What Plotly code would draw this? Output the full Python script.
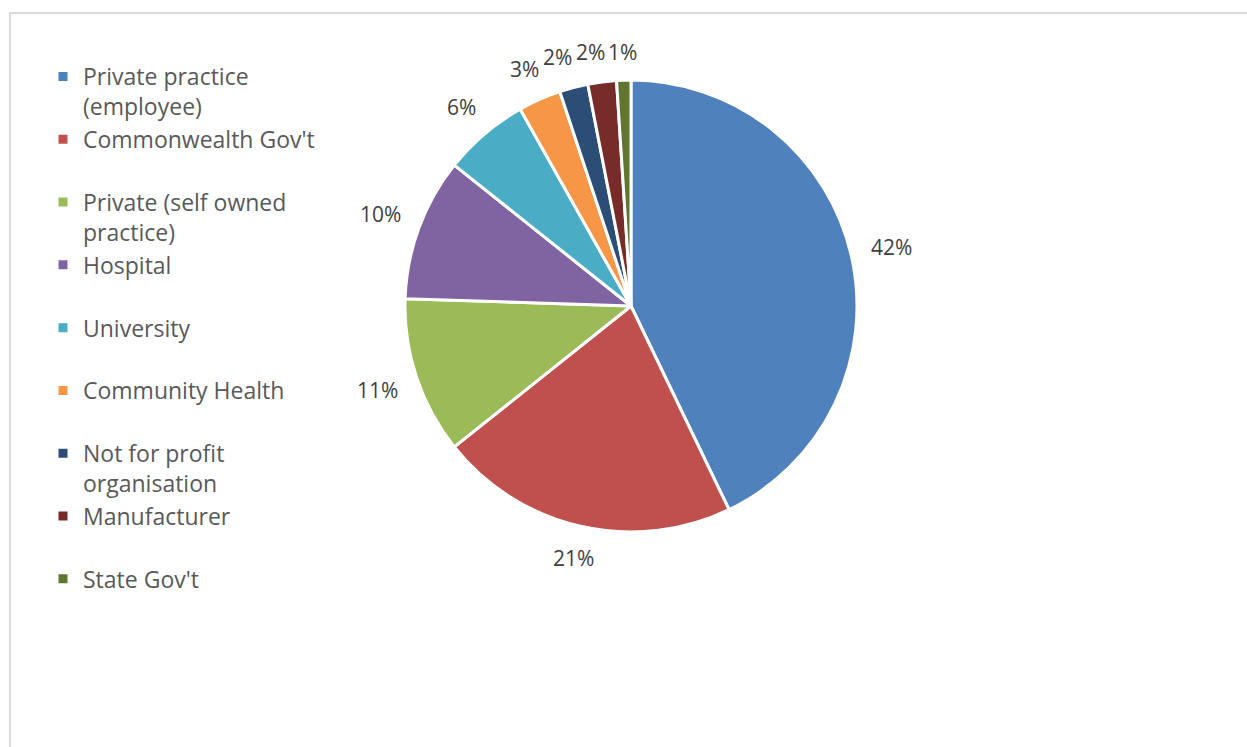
import math
import plotly.graph_objects as go

# Workplace categories and their share of respondents (%)
categories = [
    "Private practice<br>(employee)",
    "Commonwealth Gov't<br> ",
    "Private (self owned<br>practice)",
    "Hospital<br> ",
    "University<br> ",
    "Community Health<br> ",
    "Not for profit<br>organisation",
    "Manufacturer<br> ",
    "State Gov't<br> ",
]
shares = [42, 21, 11, 10, 6, 3, 2, 2, 1]
slice_colors = [
    "#4F81BD", "#C0504D", "#9BBB59", "#8064A2", "#4BACC6",
    "#F79646", "#2C4D75", "#772C2A", "#5F7530",
]

W, H = 1247, 747
cx, cy, r = 631, 306, 226  # pie centre and radius in pixels
label_size = 21

fig = go.Figure(
    go.Pie(
        labels=categories,
        values=shares,
        sort=False,
        direction="clockwise",
        rotation=0,
        marker=dict(colors=slice_colors, line=dict(color="white", width=3)),
        textinfo="none",
        hoverinfo="label+value",
        domain=dict(
            x=[(cx - r) / W, (cx + r) / W],
            y=[(H - cy - r) / H, (H - cy + r) / H],
        ),
        showlegend=True,
    )
)

# Percentage labels placed just beyond the rim at each slice's mid-angle
total = sum(shares)
labels = []
cum = 0.0
for v in shares:
    mid = (cum + v / 2) / total * 2 * math.pi  # clockwise from 12 o'clock
    cum += v
    dx, dy = math.sin(mid), -math.cos(mid)
    text = f"{v}%"
    tw = (len(text) - 1) * 0.58 * label_size + 0.84 * label_size
    th = 20
    half = abs(dx) * tw / 2 + abs(dy) * th / 2
    d = r + 18 + half
    labels.append(dict(text=text, x=cx + d * dx, y=cy + d * dy, w=tw, h=th))

# Nudge crowded labels near the top counter-clockwise so they don't collide
for i in range(len(labels) - 2, -1, -1):
    a, b = labels[i], labels[i + 1]
    if abs(a["y"] - b["y"]) < (a["h"] + b["h"]) / 2 and a["x"] < b["x"]:
        limit = b["x"] - b["w"] / 2 - 3 - a["w"] / 2
        if a["x"] > limit:
            a["x"] = limit

annotations = [
    dict(
        x=lb["x"] / W, y=1 - lb["y"] / H, xref="paper", yref="paper",
        text=lb["text"], showarrow=False, xanchor="center", yanchor="middle",
        font=dict(family="Open Sans", size=label_size, color="#404040"),
    )
    for lb in labels
]

fig.update_layout(
    width=W,
    height=H,
    margin=dict(l=0, r=0, t=0, b=0, autoexpand=False),
    paper_bgcolor="white",
    plot_bgcolor="white",
    font=dict(family="Open Sans", color="#595959"),
    legend=dict(
        x=43 / W,
        xanchor="left",
        y=1 - 55 / H,
        yanchor="top",
        valign="top",
        font=dict(family="Open Sans", size=23, color="#595959"),
        bgcolor="rgba(0,0,0,0)",
    ),
    annotations=annotations,
    shapes=[
        dict(
            type="rect", xref="paper", yref="paper",
            x0=10 / W, x1=1.01, y0=-0.05, y1=1 - 13 / H,
            line=dict(color="#D9D9D9", width=2),
            fillcolor="rgba(0,0,0,0)",
        )
    ],
)

fig.write_html("out.html")
